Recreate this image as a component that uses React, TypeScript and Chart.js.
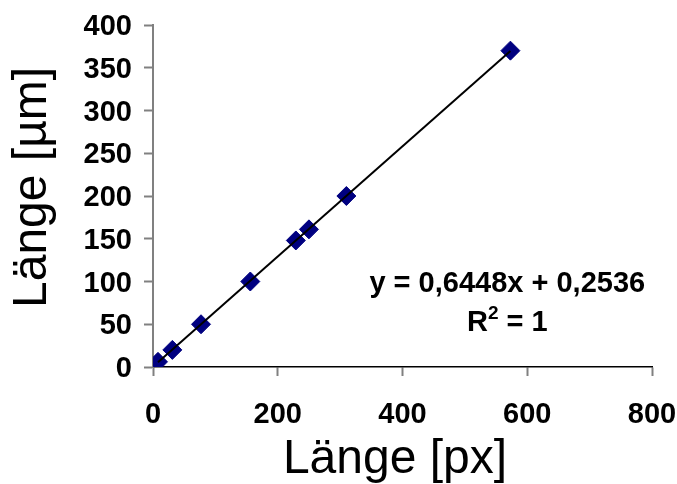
import React, { useEffect, useRef } from 'react';
import { Chart, registerables } from 'chart.js';

Chart.register(...registerables);

// Data
const lengthPx = [8, 31, 77, 156, 229, 250, 310, 573];
const lengthUm = [6, 20, 50, 100, 148, 161, 200, 370];
const trendSlope = 0.6448;
const trendIntercept = 0.2536;
const xTickValues = [0, 200, 400, 600, 800];
const yTickValues = [0, 50, 100, 150, 200, 250, 300, 350, 400];
const xTitle = 'Länge [px]';
const yTitle = 'Länge [µm]';
const equationText = 'y = 0,6448x + 0,2536';
const r2Base = 'R';
const r2Sup = '2';
const r2Rest = ' = 1';

const FONT = '"Liberation Sans", Arial, sans-serif';

export default function App() {
  const canvasRef = useRef<HTMLCanvasElement | null>(null);

  useEffect(() => {
    document.body.style.margin = '0';
    const canvas = canvasRef.current;
    if (!canvas) return;

    const xMin = Math.min(...lengthPx);
    const xMax = Math.max(...lengthPx);
    const trend = [
      { x: xMin, y: trendSlope * xMin + trendIntercept },
      { x: xMax, y: trendSlope * xMax + trendIntercept },
    ];
    const points = lengthPx.map((x, i) => ({ x, y: lengthUm[i] }));

    const textPlugin = {
      id: 'textPlugin',
      afterDraw(chart: any) {
        const { ctx, chartArea } = chart;
        const w = chartArea.right - chartArea.left;
        const h = chartArea.bottom - chartArea.top;
        ctx.save();
        ctx.fillStyle = '#000';
        ctx.textBaseline = 'middle';

        // axis titles
        ctx.font = `48px ${FONT}`;
        ctx.textAlign = 'center';
        ctx.fillText(xTitle, chartArea.left + w * 0.485, 460);
        ctx.save();
        ctx.translate(32.5, chartArea.top + h * 0.475);
        ctx.rotate(-Math.PI / 2);
        ctx.fillText(yTitle, 0, 0);
        ctx.restore();

        // equation + R²
        const cx = chartArea.left + w * 0.71;
        const cy1 = chartArea.top + h * 0.758;
        const cy2 = chartArea.top + h * 0.87;
        ctx.font = `bold 29px ${FONT}`;
        ctx.fillText(equationText, cx, cy1);

        const baseFont = `bold 29px ${FONT}`;
        const supFont = `bold 19px ${FONT}`;
        ctx.font = baseFont;
        const wR = ctx.measureText(r2Base).width;
        const wRest = ctx.measureText(r2Rest).width;
        ctx.font = supFont;
        const wSup = ctx.measureText(r2Sup).width;
        const total = wR + wSup + wRest;
        let x0 = cx - total / 2;
        ctx.textAlign = 'left';
        ctx.font = baseFont;
        ctx.fillText(r2Base, x0, cy2);
        x0 += wR;
        ctx.font = supFont;
        ctx.fillText(r2Sup, x0, cy2 - 9);
        x0 += wSup;
        ctx.font = baseFont;
        ctx.fillText(r2Rest, x0, cy2);
        ctx.restore();
      },
    };

    const chart = new Chart(canvas, {
      type: 'scatter',
      data: {
        datasets: [
          {
            label: 'Trend',
            data: trend,
            showLine: true,
            borderColor: '#000',
            borderWidth: 2,
            pointRadius: 0,
            pointHoverRadius: 0,
            fill: false,
          },
          {
            label: 'Länge',
            data: points,
            pointStyle: 'rectRot',
            pointRadius: 9.5,
            backgroundColor: '#000080',
            borderColor: '#000080',
            borderWidth: 1,
            showLine: false,
          },
        ],
      },
      plugins: [textPlugin],
      options: {
        animation: false,
        responsive: false,
        maintainAspectRatio: false,
        layout: { padding: { top: 25, right: 25, left: 0, bottom: 0 } },
        plugins: {
          legend: { display: false },
          tooltip: { enabled: false },
        },
        scales: {
          x: {
            type: 'linear',
            min: 0,
            max: 800,
            afterBuildTicks(scale: any) {
              scale.ticks = xTickValues.map((v) => ({ value: v }));
            },
            afterFit(scale: any) {
              scale.height = 117;
              scale.paddingLeft = 0;
              scale.paddingRight = 0;
            },
            grid: {
              drawOnChartArea: false,
              drawTicks: true,
              tickLength: 9,
              tickColor: '#808080',
              tickWidth: 2,
            },
            border: { display: true, color: '#000', width: 1.5 },
            ticks: {
              color: '#000',
              padding: 24,
              font: { family: FONT, size: 29, weight: 'bold', lineHeight: 1 },
            },
          },
          y: {
            type: 'linear',
            min: 0,
            max: 400,
            afterBuildTicks(scale: any) {
              scale.ticks = yTickValues.map((v) => ({ value: v }));
            },
            afterFit(scale: any) {
              scale.width = 153;
              scale.paddingTop = 0;
              scale.paddingBottom = 0;
            },
            grid: {
              drawOnChartArea: false,
              drawTicks: true,
              tickLength: 9,
              tickColor: '#808080',
              tickWidth: 2,
            },
            border: { display: true, color: '#808080', width: 2 },
            ticks: {
              color: '#000',
              padding: 12,
              labelOffset: 2,
              font: { family: FONT, size: 29, weight: 'bold', lineHeight: 1 },
            },
          },
        },
      },
    });

    return () => chart.destroy();
  }, []);

  return (
    <div style={{ position: 'fixed', left: 0, top: 0, width: 677, height: 484, background: '#fff' }}>
      <canvas ref={canvasRef} width={677} height={484} style={{ width: 677, height: 484, display: 'block' }} />
    </div>
  );
}
